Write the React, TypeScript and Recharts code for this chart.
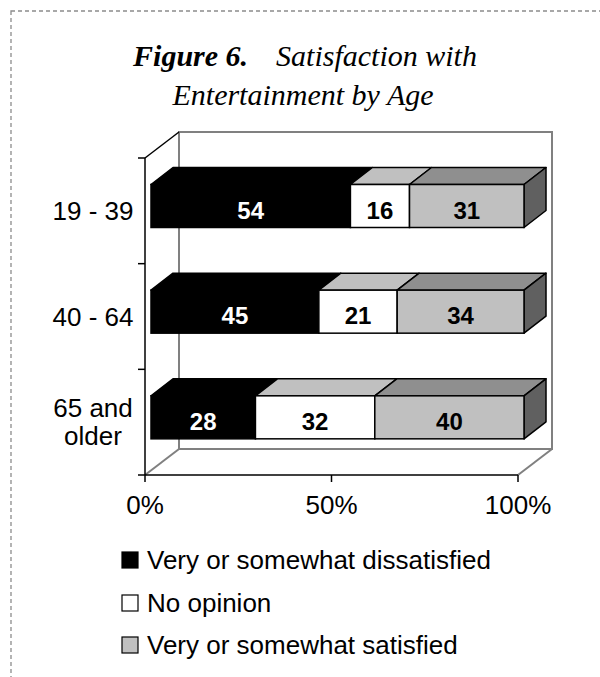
import React from 'react'
import { BarChart, Bar, XAxis, YAxis } from 'recharts'

const categories = ['19 - 39', '40 - 64', '65 and older']
const dissatisfied = [54, 45, 28]
const noOpinion = [16, 21, 32]
const satisfied = [31, 34, 40]
const xTicks = [0, 0.5, 1]

const seriesKeys = ['dissatisfied', 'noOpinion', 'satisfied']
const seriesNames = ['Very or somewhat dissatisfied', 'No opinion', 'Very or somewhat satisfied']
const frontColors = ['#000000', '#ffffff', '#c0c0c0']
const topColors = ['#000000', '#c0c0c0', '#8f8f8f']
const labelColors = ['#ffffff', '#000000', '#000000']
const sideColor = '#606060'

const data = categories.map((age, i) => ({
  age,
  dissatisfied: dissatisfied[i],
  noOpinion: noOpinion[i],
  satisfied: satisfied[i],
}))

// page / plot geometry (front plane of the box)
const W = 600
const H = 677
const PL = 145
const PR = 518
const PT = 158
const PB = 475
const DX = 34 // depth of the box
const DY = 26
const FX = 6 // bars sit a little behind the front plane
const FY = 4.5
const BDX = 22 // bar depth
const BDY = 17
const Y_AXIS_W = 100
const X_AXIS_H = 40

const sans = '"Liberation Sans", Arial, sans-serif'
const serif = '"Liberation Serif", "Times New Roman", serif'

function makeShape(i: number) {
  return (props: any) => {
    const { x, y, width, height, payload } = props
    const fx = x + FX
    const fy = y - FY
    const w = width
    const h = height
    const top = `${fx},${fy} ${fx + BDX},${fy - BDY} ${fx + w + BDX},${fy - BDY} ${fx + w},${fy}`
    const side = `${fx + w},${fy} ${fx + w + BDX},${fy - BDY} ${fx + w + BDX},${fy - BDY + h} ${fx + w},${fy + h}`
    return (
      <g>
        <polygon points={top} fill={topColors[i]} stroke="#000" strokeWidth={1.5} strokeLinejoin="round" />
        {i === seriesKeys.length - 1 && (
          <polygon points={side} fill={sideColor} stroke="#000" strokeWidth={1.5} strokeLinejoin="round" />
        )}
        <rect x={fx} y={fy} width={w} height={h} fill={frontColors[i]} stroke="#000" strokeWidth={1.5} />
        <text
          x={fx + w / 2}
          y={fy + h / 2 + 4}
          textAnchor="middle"
          dominantBaseline="central"
          fontFamily={sans}
          fontWeight="bold"
          fontSize={24}
          fill={labelColors[i]}
        >
          {payload[seriesKeys[i]]}
        </text>
      </g>
    )
  }
}

function AgeTick(props: any) {
  const { y, payload, index } = props
  const band = (PB - PT) / categories.length
  const words = String(payload.value)
  const lines = words === '65 and older' ? ['65 and', 'older'] : [words]
  const lh = 28
  const y0 = y - ((lines.length - 1) * lh) / 2
  return (
    <g>
      <line x1={PL - 7} x2={PL} y1={y - band / 2} y2={y - band / 2} stroke="#000" strokeWidth={1.5} />
      {index === categories.length - 1 && (
        <line x1={PL - 7} x2={PL} y1={y + band / 2} y2={y + band / 2} stroke="#000" strokeWidth={1.5} />
      )}
      {lines.map((l, k) => (
        <text
          key={k}
          x={PL - 52}
          y={y0 + k * lh}
          textAnchor="middle"
          dominantBaseline="central"
          fontFamily={sans}
          fontSize={26}
          fill="#000"
        >
          {l}
        </text>
      ))}
    </g>
  )
}

export default function App() {
  const legendY = [560, 603, 645]
  return (
    <div style={{ position: 'absolute', left: 0, top: 0, width: W, height: H, background: '#fff', overflow: 'hidden' }}>
      <svg width={W} height={H} style={{ position: 'absolute', left: 0, top: 0 }}>
        <rect x={11} y={11} width={W + 10} height={H + 10} fill="none" stroke="#8c8c8c" strokeWidth={1.3} strokeDasharray="4 3" />
        <text x={305} y={66} textAnchor="middle" fontFamily={serif} fontStyle="italic" fontSize={30} fill="#000">
          <tspan fontWeight="bold">Figure 6.</tspan>
          <tspan dx={28}>Satisfaction with</tspan>
        </text>
        <text x={303} y={105} textAnchor="middle" fontFamily={serif} fontStyle="italic" fontSize={30} fill="#000">
          Entertainment by Age
        </text>
        {/* back wall */}
        <rect x={PL + DX} y={PT - DY} width={PR - PL} height={PB - PT} fill="#fff" stroke="#808080" strokeWidth={2} />
        {/* side wall and floor edges */}
        <line x1={PL} y1={PT} x2={PL + DX} y2={PT - DY} stroke="#000" strokeWidth={1.5} />
        <line x1={PL} y1={PB} x2={PL + DX} y2={PB - DY} stroke="#808080" strokeWidth={2} />
        <line x1={PR} y1={PB} x2={PR + DX} y2={PB - DY} stroke="#808080" strokeWidth={2} />
        {/* legend */}
        {seriesNames.map((name, i) => (
          <g key={name}>
            <rect x={122} y={legendY[i] - 8} width={16} height={16} fill={frontColors[i]} stroke="#000" strokeWidth={1.2} />
            <text x={147} y={legendY[i]} dominantBaseline="central" fontFamily={sans} fontSize={26} fill="#000">
              {name}
            </text>
          </g>
        ))}
      </svg>
      <div style={{ position: 'absolute', left: 0, top: 0 }}>
        <BarChart
          width={W}
          height={H}
          data={data}
          layout="vertical"
          stackOffset="expand"
          barSize={43}
          margin={{ top: PT, right: W - PR, bottom: H - PB - X_AXIS_H, left: PL - Y_AXIS_W }}
        >
          <XAxis
            type="number"
            domain={[0, 1]}
            ticks={xTicks}
            interval={0}
            tickFormatter={(v: number) => `${Math.round(v * 100)}%`}
            axisLine={{ stroke: '#000', strokeWidth: 1.5 }}
            tickLine={{ stroke: '#000', strokeWidth: 1.5 }}
            tickSize={7}
            tickMargin={14}
            height={X_AXIS_H}
            tick={{ fontSize: 26, fill: '#000', fontFamily: sans }}
          />
          <YAxis
            type="category"
            dataKey="age"
            width={Y_AXIS_W}
            axisLine={{ stroke: '#000', strokeWidth: 1.5 }}
            tickLine={false}
            tick={<AgeTick />}
            interval={0}
          />
          {seriesKeys.map((k, i) => (
            <Bar
              key={k}
              dataKey={k}
              stackId="a"
              fill={frontColors[i]}
              isAnimationActive={false}
              shape={makeShape(i)}
            />
          ))}
        </BarChart>
      </div>
    </div>
  )
}
